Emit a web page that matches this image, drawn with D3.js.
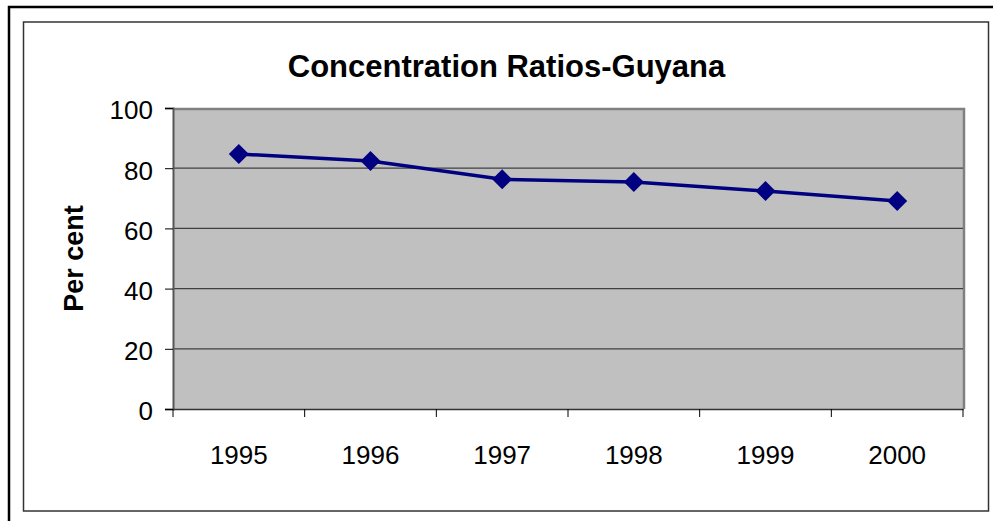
<!DOCTYPE html>
<html>
<head>
<meta charset="utf-8">
<script src="https://cdn.jsdelivr.net/npm/d3@7"></script>
<style>
    body { margin: 0; background: #fff; }
    text { font-family: Arial, 'Liberation Sans', sans-serif; fill: #000; }
</style>
</head>
<body>
<svg id="chart"></svg>
<script>
const width = 993;
const height = 521;

const years = ['1995', '1996', '1997', '1998', '1999', '2000'];
const ratios = [84.7, 82.4, 76.3, 75.4, 72.4, 69.1];
const yTicks = [0, 20, 40, 60, 80, 100];

const plot = { left: 173, right: 963, top: 108, bottom: 409 };

const svg = d3.select('#chart')
    .attr('width', width)
    .attr('height', height);

// outer frame (only top and left edges fall inside the picture)
svg.append('path')
    .attr('d', `M9,${height} V7 H${width}`)
    .attr('fill', 'none')
    .attr('stroke', '#000')
    .attr('stroke-width', 2.5);

// chart area frame
svg.append('rect')
    .attr('x', 23.5).attr('y', 22)
    .attr('width', 965).attr('height', 489)
    .attr('fill', '#fff')
    .attr('stroke', '#333')
    .attr('stroke-width', 1.5);

const x = d3.scaleBand().domain(years).range([plot.left, plot.right]);
const y = d3.scaleLinear().domain([0, 100]).range([plot.bottom, plot.top]);

// plot background with shadow on top/right
svg.append('rect')
    .attr('x', plot.left).attr('y', plot.top)
    .attr('width', plot.right - plot.left).attr('height', plot.bottom - plot.top)
    .attr('fill', '#c0c0c0');
svg.append('path')
    .attr('d', `M${plot.left},${plot.top + 1} H${plot.right + 1} V${plot.bottom}`)
    .attr('fill', 'none')
    .attr('stroke', '#808080')
    .attr('stroke-width', 2.5);

// gridlines
svg.append('g')
    .selectAll('line')
    .data(yTicks.filter(d => d > 0 && d < 100))
    .enter().append('line')
    .attr('x1', plot.left).attr('x2', plot.right)
    .attr('y1', d => y(d)).attr('y2', d => y(d))
    .attr('stroke', '#404040')
    .attr('stroke-width', 1.2);

// y axis
const yAxis = svg.append('g')
    .attr('transform', `translate(${plot.left},0)`)
    .call(d3.axisLeft(y).tickValues(yTicks).tickSize(8).tickPadding(12));
yAxis.select('.domain').attr('stroke', '#555').attr('stroke-width', 2);
yAxis.selectAll('.tick line').attr('stroke', '#000');
yAxis.selectAll('.tick text')
    .style('font-size', '26px')
    .attr('dy', '0.42em');

// x axis
const xAxis = svg.append('g')
    .attr('transform', `translate(0,${plot.bottom})`)
    .call(d3.axisBottom(x).tickSize(0).tickPadding(0));
xAxis.select('.domain').attr('stroke', '#333').attr('stroke-width', 1.5);
xAxis.selectAll('.tick text')
    .style('font-size', '26px')
    .attr('y', 55)
    .attr('dy', 0);
xAxis.selectAll('.sep')
    .data(d3.range(years.length + 1))
    .enter().append('line')
    .attr('x1', i => plot.left + i * x.step())
    .attr('x2', i => plot.left + i * x.step())
    .attr('y1', 0).attr('y2', 8)
    .attr('stroke', '#000');

// title
svg.append('text')
    .attr('x', (288 + 725) / 2)
    .attr('y', 77)
    .attr('text-anchor', 'middle')
    .style('font-size', '31px')
    .style('font-weight', 'bold')
    .text('Concentration Ratios-Guyana');

// y title
svg.append('text')
    .attr('transform', `translate(83,${(plot.top + plot.bottom) / 2}) rotate(-90)`)
    .attr('text-anchor', 'middle')
    .style('font-size', '27px')
    .style('font-weight', 'bold')
    .text('Per cent');

// series
const cx = d => x(d) + x.bandwidth() / 2;
const line = d3.line()
    .x((d, i) => cx(years[i]))
    .y(d => y(d));

svg.append('path')
    .datum(ratios)
    .attr('d', line)
    .attr('fill', 'none')
    .attr('stroke', '#000080')
    .attr('stroke-width', 3.5);

svg.append('g')
    .selectAll('path')
    .data(ratios)
    .enter().append('path')
    .attr('d', d3.symbol().type(d3.symbolDiamond2).size(255))
    .attr('transform', (d, i) => `translate(${cx(years[i])},${y(d)})`)
    .attr('fill', '#000080');
</script>
</body>
</html>
